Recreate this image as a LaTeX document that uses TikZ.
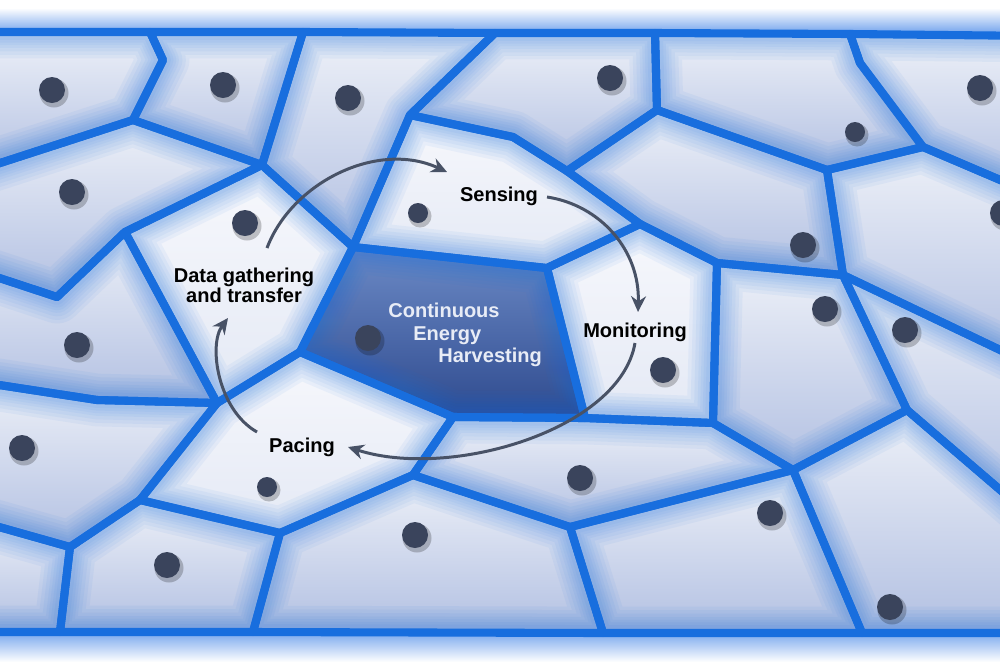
\documentclass[tikz,border=0pt]{standalone}
\usepackage{fontspec}
\setmainfont{Liberation Sans}
\usetikzlibrary{arrows.meta}
\definecolor{edgeblue}{RGB}{24,110,222}
\definecolor{dotc}{RGB}{58,68,92}
\definecolor{arrc}{RGB}{72,82,102}
\definecolor{celltop}{RGB}{238,241,248}
\definecolor{cellbot}{RGB}{178,192,226}
\definecolor{wtop}{RGB}{247,248,252}
\definecolor{wbot}{RGB}{228,233,245}
\definecolor{ctop}{RGB}{108,138,198}
\definecolor{cbot}{RGB}{46,74,142}
\definecolor{glowblue}{RGB}{110,160,236}
\definecolor{cehtext}{RGB}{232,236,246}
\makeatletter
\newcommand\alledges{}
\newcommand\cellfill[3]{%
  \begin{scope}
    \clip #1;
    \shade[top color=#2,bottom color=#3] #1;
    \foreach \w in {30,26,22,18,15,12,9}{\draw[glowline,line width=\w pt] #1;}
  \end{scope}%
  \g@addto@macro\alledges{\draw[edgeline] #1;}}
\makeatother
\newcommand\celldot[2]{%
  \fill[black,opacity=.22] (#1) ++(2,3) circle[radius=#2+1.5];
  \fill[dotc] (#1) circle[radius=#2];}
\tikzset{
  glowline/.style={draw=edgeblue,opacity=0.055,line join=round},
  edgeline/.style={draw=edgeblue,line width=4.6pt,line join=round},
  lbl/.style={font=\fontsize{11.4}{13}\selectfont\bfseries,text=black,inner sep=0pt},
  ceh/.style={font=\fontsize{11.4}{13}\selectfont\bfseries,text=cehtext,inner sep=0pt,anchor=base west},
  cyc/.style={draw=arrc,line width=1.7pt,-{Stealth[length=9pt,width=8.5pt]}}
}
\begin{document}
\begin{tikzpicture}[x=0.02cm,y=-0.02cm]
\useasboundingbox (0,0) rectangle (1000,667);
\clip (0,0) rectangle (1000,667);
\fill[white] (0,0) rectangle (1000,667);
\shade[top color=white,bottom color=glowblue] (0,8) rectangle (1000,34);
\shade[top color=glowblue,bottom color=white] (0,630) rectangle (1000,662);
% border vertices
\coordinate (t0) at (-40,32);  \coordinate (t1) at (150,32);
\coordinate (t2) at (303,32);  \coordinate (t3) at (495,33);
\coordinate (t4) at (655,33);  \coordinate (t5) at (850,34);
\coordinate (t6) at (1040,36);
\coordinate (b0) at (-40,632); \coordinate (b1) at (60,632);
\coordinate (b2) at (253,632); \coordinate (b3) at (603,633);
\coordinate (b4) at (862,633); \coordinate (b5) at (1040,633);
\coordinate (l1) at (-40,176); \coordinate (l2) at (-40,265);
\coordinate (l3) at (-40,379); \coordinate (l4) at (-40,516);
\coordinate (r1) at (1040,197); \coordinate (r2) at (1040,369);
\coordinate (r3) at (1040,524);
% inner vertices
\coordinate (a2) at (163,60);  \coordinate (a3) at (133,120);
\coordinate (a4) at (262,165); \coordinate (a5) at (125,232);
\coordinate (a6) at (57,297);  \coordinate (a7) at (217,403);
\coordinate (a8) at (97,400);  \coordinate (a9) at (140,500);
\coordinate (a10) at (70,547); \coordinate (a11) at (280,533);
\coordinate (c1) at (353,247); \coordinate (c2) at (547,268);
\coordinate (c3) at (585,418); \coordinate (c4) at (453,417);
\coordinate (c5) at (300,352);
\coordinate (s1) at (410,115); \coordinate (s2) at (513,137);
\coordinate (s3) at (567,171); \coordinate (s4) at (640,224);
\coordinate (m1) at (717,263); \coordinate (m2) at (713,423);
\coordinate (n1) at (657,110); \coordinate (n2) at (827,170);
\coordinate (n3) at (923,147); \coordinate (n4) at (860,63);
\coordinate (p1) at (843,275); \coordinate (p2) at (907,410);
\coordinate (p3) at (793,470);
\coordinate (q1) at (413,475); \coordinate (q2) at (570,527);
% cells
\cellfill{(t0)--(t1)--(a2)--(a3)--(l1)--cycle}{celltop}{cellbot}
\cellfill{(t1)--(t2)--(a4)--(a3)--(a2)--cycle}{celltop}{cellbot}
\cellfill{(t2)--(t3)--(s1)--(c1)--(a4)--cycle}{celltop}{cellbot}
\cellfill{(t3)--(t4)--(n1)--(s3)--(s2)--(s1)--cycle}{celltop}{cellbot}
\cellfill{(t4)--(t5)--(n4)--(n3)--(n2)--(n1)--cycle}{celltop}{cellbot}
\cellfill{(t5)--(t6)--(r1)--(n3)--(n4)--cycle}{celltop}{cellbot}
\cellfill{(l1)--(a3)--(a4)--(a5)--(a6)--(l2)--cycle}{celltop}{cellbot}
\cellfill{(a4)--(c1)--(c5)--(a7)--(a5)--cycle}{wtop}{wbot}
\cellfill{(s1)--(s2)--(s3)--(s4)--(c2)--(c1)--cycle}{wtop}{wbot}
\cellfill{(s3)--(n1)--(n2)--(p1)--(m1)--(s4)--cycle}{celltop}{cellbot}
\cellfill{(n2)--(n3)--(r1)--(r2)--(p1)--cycle}{celltop}{cellbot}
\cellfill{(l2)--(a6)--(a5)--(a7)--(a8)--(l3)--cycle}{celltop}{cellbot}
\cellfill{(c1)--(c2)--(c3)--(c4)--(c5)--cycle}{ctop}{cbot}
\cellfill{(c2)--(s4)--(m1)--(m2)--(c3)--cycle}{wtop}{wbot}
\cellfill{(m1)--(p1)--(p2)--(p3)--(m2)--cycle}{celltop}{cellbot}
\cellfill{(p1)--(r2)--(r3)--(p2)--cycle}{celltop}{cellbot}
\cellfill{(l3)--(a8)--(a7)--(a9)--(a10)--(l4)--cycle}{celltop}{cellbot}
\cellfill{(a7)--(c5)--(c4)--(q1)--(a11)--(a9)--cycle}{wtop}{wbot}
\cellfill{(q1)--(c4)--(c3)--(m2)--(p3)--(q2)--cycle}{celltop}{cellbot}
\cellfill{(l4)--(a10)--(b1)--(b0)--cycle}{celltop}{cellbot}
\cellfill{(a10)--(a9)--(a11)--(b2)--(b1)--cycle}{celltop}{cellbot}
\cellfill{(b2)--(a11)--(q1)--(q2)--(b3)--cycle}{celltop}{cellbot}
\cellfill{(q2)--(p3)--(b4)--(b3)--cycle}{celltop}{cellbot}
\cellfill{(p3)--(p2)--(r3)--(b5)--(b4)--cycle}{celltop}{cellbot}
\alledges
% dots
\celldot{52,90}{13}
\celldot{223,85}{13}
\celldot{348,98}{13}
\celldot{610,78}{13}
\celldot{855,132}{10}
\celldot{980,88}{13}
\celldot{72,192}{13}
\celldot{245,223}{13}
\celldot{418,213}{10}
\celldot{803,245}{13}
\celldot{1003,213}{13}
\celldot{77,345}{13}
\celldot{368,338}{13}
\celldot{663,370}{13}
\celldot{825,309}{13}
\celldot{905,330}{13}
\celldot{22,448}{13}
\celldot{267,487}{10}
\celldot{580,478}{13}
\celldot{167,565}{13}
\celldot{415,535}{13}
\celldot{770,513}{13}
\celldot{890,607}{13}
% labels
\node[lbl,anchor=base] (sens) at (499,201) {Sensing};
\node[lbl,anchor=base] (mon) at (635,337) {Monitoring};
\node[lbl,anchor=base] (pac) at (302,452) {Pacing};
\node[lbl,anchor=base] (data) at (244,282) {Data gathering};
\node[lbl,anchor=base] (data2) at (244,302) {and transfer};
\node[ceh] (ceh1) at (388,317) {Continuous};
\node[ceh] (ceh2) at (413,340) {Energy};
\node[ceh] (ceh3) at (438,362) {Harvesting};
% cycle arrows
\coordinate (d2s) at (267,248); \coordinate (d2e) at (447,172);
\coordinate (s2s) at (547,197); \coordinate (s2e) at (638,312);
\coordinate (m2s) at (635,343); \coordinate (m2e) at (348,447);
\coordinate (p2s) at (257,432); \coordinate (p2e) at (228,318);
\draw[cyc] (d2s) .. controls (292,182) and (378,140) .. (d2e);
\draw[cyc] (s2s) .. controls (600,205) and (640,250) .. (s2e);
\draw[cyc] (m2s) .. controls (620,430) and (450,480) .. (m2e);
\draw[cyc] (p2s) .. controls (218,410) and (208,345) .. (p2e);
\end{tikzpicture}
\end{document}
